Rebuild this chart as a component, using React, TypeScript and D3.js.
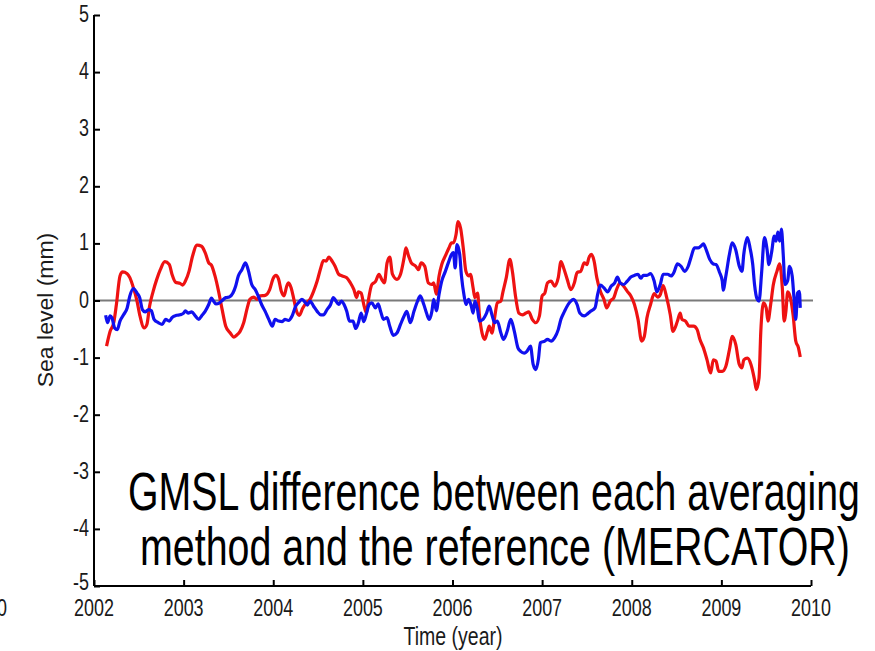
import React, { useRef, useEffect } from "react";
import * as d3 from "d3";

// red series: [year, mm]
const redSeries: [number, number][] = [
  [2002.14, -0.8], [2002.18, -0.54], [2002.22, -0.39], [2002.25, -0.07], [2002.29, 0.43],
  [2002.32, 0.5], [2002.37, 0.47], [2002.4, 0.4], [2002.44, 0.22], [2002.48, -0.01],
  [2002.51, -0.25], [2002.56, -0.48], [2002.59, -0.42], [2002.62, -0.1], [2002.66, 0.16],
  [2002.7, 0.37], [2002.74, 0.54], [2002.79, 0.68], [2002.84, 0.63], [2002.87, 0.46],
  [2002.91, 0.32], [2002.96, 0.3], [2002.99, 0.27], [2003.02, 0.34], [2003.06, 0.51],
  [2003.1, 0.78], [2003.15, 0.97], [2003.2, 0.95], [2003.24, 0.84], [2003.28, 0.66],
  [2003.31, 0.62], [2003.35, 0.43], [2003.39, 0.16], [2003.43, -0.16], [2003.47, -0.45],
  [2003.52, -0.57], [2003.56, -0.64], [2003.59, -0.61], [2003.63, -0.54], [2003.67, -0.39],
  [2003.71, -0.13], [2003.74, 0.02], [2003.78, 0.06], [2003.82, 0.02], [2003.85, 0.08],
  [2003.91, 0.09], [2003.96, 0.19], [2004.0, 0.39], [2004.03, 0.44], [2004.06, 0.37],
  [2004.09, 0.16], [2004.12, 0.08], [2004.15, 0.25], [2004.17, 0.31], [2004.2, 0.22],
  [2004.23, 0.02], [2004.26, -0.19], [2004.29, -0.26], [2004.33, -0.13], [2004.37, -0.04],
  [2004.41, 0.02], [2004.45, 0.16], [2004.49, 0.34], [2004.53, 0.57], [2004.56, 0.7],
  [2004.59, 0.69], [2004.62, 0.76], [2004.66, 0.68], [2004.69, 0.6], [2004.73, 0.46],
  [2004.77, 0.43], [2004.82, 0.4], [2004.86, 0.31], [2004.9, 0.19], [2004.93, 0.05],
  [2004.95, 0.15], [2004.98, 0.13], [2005.01, -0.07], [2005.04, -0.22], [2005.06, -0.01],
  [2005.1, 0.28], [2005.14, 0.33], [2005.18, 0.46], [2005.21, 0.37], [2005.24, 0.31],
  [2005.27, 0.66], [2005.3, 0.76], [2005.33, 0.46], [2005.38, 0.37], [2005.42, 0.46],
  [2005.46, 0.75], [2005.48, 0.92], [2005.51, 0.78], [2005.54, 0.66], [2005.59, 0.6],
  [2005.62, 0.54], [2005.65, 0.66], [2005.69, 0.6], [2005.73, 0.31], [2005.77, 0.28],
  [2005.79, 0.31], [2005.82, 0.11], [2005.85, 0.43], [2005.88, 0.63], [2005.92, 0.78],
  [2005.96, 0.92], [2005.99, 1.01], [2006.01, 1.01], [2006.04, 1.16], [2006.06, 1.38],
  [2006.09, 1.27], [2006.12, 0.92], [2006.15, 0.51], [2006.18, 0.43], [2006.2, 0.46],
  [2006.23, 0.22], [2006.25, 0.05], [2006.28, 0.13], [2006.3, -0.25], [2006.33, -0.57],
  [2006.36, -0.68], [2006.39, -0.54], [2006.41, -0.45], [2006.44, -0.57], [2006.47, -0.3],
  [2006.5, -0.04], [2006.54, -0.01], [2006.56, 0.13], [2006.6, 0.4], [2006.64, 0.72],
  [2006.67, 0.49], [2006.7, 0.11], [2006.74, -0.22], [2006.78, -0.25], [2006.82, -0.22],
  [2006.85, -0.2], [2006.89, -0.33], [2006.93, -0.39], [2006.97, -0.27], [2007.0, 0.08],
  [2007.03, 0.13], [2007.06, 0.31], [2007.1, 0.34], [2007.14, 0.25], [2007.18, 0.4],
  [2007.21, 0.68], [2007.24, 0.57], [2007.28, 0.37], [2007.32, 0.19], [2007.36, 0.31],
  [2007.39, 0.49], [2007.43, 0.51], [2007.47, 0.66], [2007.5, 0.63], [2007.52, 0.74],
  [2007.55, 0.81], [2007.58, 0.69], [2007.61, 0.4], [2007.65, 0.16], [2007.69, 0.02],
  [2007.72, -0.13], [2007.76, -0.01], [2007.8, 0.05], [2007.83, 0.19], [2007.87, 0.31],
  [2007.91, 0.25], [2007.95, 0.16], [2007.99, 0.08], [2008.03, -0.07], [2008.07, -0.33],
  [2008.11, -0.71], [2008.14, -0.63], [2008.17, -0.3], [2008.21, -0.07], [2008.25, 0.12],
  [2008.29, 0.06], [2008.32, 0.11], [2008.35, 0.26], [2008.39, 0.05], [2008.43, -0.25],
  [2008.46, -0.54], [2008.51, -0.36], [2008.54, -0.22], [2008.56, -0.33], [2008.6, -0.36],
  [2008.64, -0.45], [2008.69, -0.45], [2008.73, -0.51], [2008.76, -0.68], [2008.8, -0.83],
  [2008.84, -1.04], [2008.88, -1.27], [2008.91, -1.04], [2008.94, -1.06], [2008.97, -1.24],
  [2009.01, -1.24], [2009.05, -1.15], [2009.09, -0.86], [2009.12, -0.63], [2009.16, -0.77],
  [2009.2, -1.12], [2009.23, -1.18], [2009.25, -1.04], [2009.29, -1.01], [2009.33, -1.12],
  [2009.37, -1.39], [2009.39, -1.56], [2009.42, -1.36], [2009.44, -0.54], [2009.47, -0.04],
  [2009.5, -0.13], [2009.52, -0.36], [2009.55, -0.07], [2009.58, 0.28], [2009.62, 0.51],
  [2009.65, 0.64], [2009.68, 0.22], [2009.7, -0.36], [2009.72, -0.19], [2009.74, 0.15],
  [2009.77, 0.05], [2009.8, -0.25], [2009.83, -0.71], [2009.86, -0.83], [2009.88, -0.99],
];

// blue series: [year, mm]
const blueSeries: [number, number][] = [
  [2002.13, -0.26], [2002.15, -0.39], [2002.18, -0.27], [2002.2, -0.3], [2002.23, -0.48],
  [2002.26, -0.51], [2002.29, -0.36], [2002.33, -0.25], [2002.37, -0.13], [2002.4, 0.08],
  [2002.44, 0.21], [2002.48, 0.13], [2002.51, 0.05], [2002.54, -0.16], [2002.57, -0.2],
  [2002.61, -0.16], [2002.64, -0.18], [2002.67, -0.33], [2002.72, -0.39], [2002.76, -0.42],
  [2002.8, -0.33], [2002.84, -0.36], [2002.87, -0.3], [2002.92, -0.26], [2002.96, -0.25],
  [2003.0, -0.22], [2003.02, -0.18], [2003.05, -0.22], [2003.09, -0.2], [2003.13, -0.27],
  [2003.17, -0.33], [2003.2, -0.27], [2003.24, -0.19], [2003.28, -0.07], [2003.31, 0.04],
  [2003.33, 0.0], [2003.36, -0.06], [2003.4, -0.04], [2003.43, 0.0], [2003.47, 0.05],
  [2003.51, 0.06], [2003.55, 0.13], [2003.58, 0.25], [2003.61, 0.43], [2003.65, 0.54],
  [2003.69, 0.66], [2003.72, 0.54], [2003.76, 0.28], [2003.8, 0.19], [2003.84, 0.05],
  [2003.87, -0.07], [2003.91, -0.19], [2003.95, -0.33], [2003.99, -0.45], [2004.02, -0.33],
  [2004.06, -0.36], [2004.1, -0.37], [2004.13, -0.33], [2004.17, -0.35], [2004.21, -0.27],
  [2004.25, -0.1], [2004.28, -0.04], [2004.32, 0.02], [2004.36, -0.04], [2004.38, -0.08],
  [2004.41, -0.01], [2004.45, -0.1], [2004.49, -0.19], [2004.53, -0.25], [2004.56, -0.25],
  [2004.6, -0.16], [2004.64, -0.07], [2004.67, 0.05], [2004.7, -0.01], [2004.73, -0.07],
  [2004.76, -0.01], [2004.79, -0.07], [2004.82, -0.19], [2004.85, -0.36], [2004.89, -0.36],
  [2004.92, -0.49], [2004.95, -0.39], [2004.98, -0.22], [2005.01, -0.37], [2005.04, -0.23],
  [2005.07, -0.07], [2005.1, -0.04], [2005.14, -0.13], [2005.17, -0.06], [2005.2, -0.2],
  [2005.23, -0.33], [2005.27, -0.3], [2005.3, -0.45], [2005.34, -0.61], [2005.38, -0.57],
  [2005.42, -0.42], [2005.46, -0.27], [2005.49, -0.19], [2005.53, -0.39], [2005.57, -0.19],
  [2005.61, -0.01], [2005.64, 0.08], [2005.68, -0.07], [2005.71, -0.22], [2005.74, -0.33],
  [2005.77, -0.19], [2005.79, 0.02], [2005.82, -0.18], [2005.85, 0.11], [2005.88, 0.34],
  [2005.92, 0.51], [2005.96, 0.69], [2005.99, 0.81], [2006.01, 0.84], [2006.03, 0.57],
  [2006.05, 0.98], [2006.08, 0.81], [2006.1, 0.43], [2006.13, 0.08], [2006.15, -0.07],
  [2006.18, 0.02], [2006.21, -0.1], [2006.23, -0.22], [2006.25, -0.01], [2006.28, -0.16],
  [2006.3, -0.36], [2006.34, -0.33], [2006.38, -0.22], [2006.41, -0.1], [2006.44, -0.25],
  [2006.47, -0.39], [2006.5, -0.36], [2006.54, -0.57], [2006.57, -0.68], [2006.61, -0.54],
  [2006.65, -0.33], [2006.69, -0.54], [2006.73, -0.83], [2006.76, -0.89], [2006.8, -0.92],
  [2006.83, -0.89], [2006.87, -0.8], [2006.9, -1.12], [2006.93, -1.21], [2006.96, -1.01],
  [2006.98, -0.74], [2007.03, -0.71], [2007.06, -0.68], [2007.1, -0.71], [2007.14, -0.65],
  [2007.18, -0.51], [2007.21, -0.33], [2007.25, -0.19], [2007.29, -0.07], [2007.32, -0.01],
  [2007.35, 0.02], [2007.39, -0.07], [2007.42, -0.22], [2007.47, -0.27], [2007.51, -0.23],
  [2007.54, -0.19], [2007.59, -0.13], [2007.62, 0.11], [2007.65, 0.27], [2007.69, 0.22],
  [2007.73, 0.15], [2007.77, 0.25], [2007.81, 0.31], [2007.84, 0.41], [2007.87, 0.31],
  [2007.91, 0.28], [2007.95, 0.34], [2007.99, 0.41], [2008.03, 0.44], [2008.07, 0.46],
  [2008.1, 0.39], [2008.13, 0.44], [2008.17, 0.44], [2008.21, 0.47], [2008.25, 0.34],
  [2008.28, 0.15], [2008.32, 0.29], [2008.35, 0.46], [2008.4, 0.46], [2008.44, 0.43],
  [2008.47, 0.49], [2008.51, 0.64], [2008.55, 0.6], [2008.59, 0.51], [2008.63, 0.6],
  [2008.66, 0.75], [2008.7, 0.92], [2008.74, 0.92], [2008.77, 0.95], [2008.8, 0.99],
  [2008.83, 0.89], [2008.87, 0.72], [2008.91, 0.64], [2008.94, 0.63], [2008.98, 0.49],
  [2009.01, 0.34], [2009.02, 0.18], [2009.05, 0.43], [2009.09, 0.81], [2009.12, 1.01],
  [2009.16, 0.89], [2009.2, 0.6], [2009.23, 0.51], [2009.25, 0.81], [2009.29, 1.1],
  [2009.32, 0.92], [2009.35, 0.63], [2009.37, 0.28], [2009.4, 0.02], [2009.42, -0.01],
  [2009.45, 0.51], [2009.48, 1.1], [2009.51, 0.89], [2009.53, 0.63], [2009.56, 0.84],
  [2009.59, 1.13], [2009.61, 1.04], [2009.63, 1.2], [2009.65, 1.04], [2009.67, 1.25],
  [2009.69, 0.81], [2009.71, 0.28], [2009.74, 0.35], [2009.76, 0.6], [2009.79, 0.43],
  [2009.81, 0.05], [2009.83, -0.33], [2009.85, 0.13], [2009.87, 0.16], [2009.88, -0.13],
];

const yearTicks = [2002, 2003, 2004, 2005, 2006, 2007, 2008, 2009, 2010];
const mmTicks = [-5, -4, -3, -2, -1, 0, 1, 2, 3, 4, 5];
const noteLines = [
  "GMSL difference between each averaging",
  "method and the reference (MERCATOR)",
];

const FONT = "'Liberation Sans', Arial, Helvetica, sans-serif";
// the original figure is squeezed horizontally, so text is narrowed too
const SQ = 0.78;

const App = () => {
  const ref = useRef<SVGSVGElement | null>(null);

  useEffect(() => {
    const width = 875;
    const height = 651;
    const svg = d3.select(ref.current);
    svg.selectAll("*").remove();

    const x = d3.scaleLinear().domain([2002, 2010]).range([94, 811]);
    const y = d3.scaleLinear().domain([-5, 5]).range([586, 15]);

    svg.append("rect").attr("width", width).attr("height", height).attr("fill", "#fff");

    // zero reference line
    svg
      .append("line")
      .attr("x1", x(2002))
      .attr("x2", x(2010) + 2)
      .attr("y1", y(0))
      .attr("y2", y(0))
      .attr("stroke", "#7a7a7a")
      .attr("stroke-width", 2);

    const line = d3
      .line<[number, number]>()
      .x((d) => x(d[0]))
      .y((d) => y(d[1]))
      .curve(d3.curveMonotoneX);

    svg
      .append("path")
      .datum(redSeries)
      .attr("d", line)
      .attr("fill", "none")
      .attr("stroke", "#ee1212")
      .attr("stroke-width", 3.2)
      .attr("stroke-linejoin", "round");

    svg
      .append("path")
      .datum(blueSeries)
      .attr("d", line)
      .attr("fill", "none")
      .attr("stroke", "#1010ee")
      .attr("stroke-width", 3.2)
      .attr("stroke-linejoin", "round");

    // axes (ticks pointing inward)
    const xAxis = svg
      .append("g")
      .attr("transform", `translate(0,${y(-5)})`)
      .call(d3.axisTop(x).tickValues(yearTicks).tickSize(6).tickFormat(() => ""));
    xAxis.select(".domain").attr("d", `M${x(2002)},0H${x(2010)}`);

    const yAxis = svg
      .append("g")
      .attr("transform", `translate(${x(2002)},0)`)
      .call(d3.axisRight(y).tickValues(mmTicks).tickSize(6).tickFormat(() => ""));
    yAxis.select(".domain").attr("d", `M0,${y(5)}V${y(-5)}`);

    svg.selectAll(".domain").attr("stroke", "#000").attr("stroke-width", 2);
    svg.selectAll(".tick line").attr("stroke", "#000").attr("stroke-width", 2);

    // tick labels
    svg
      .append("g")
      .selectAll("text")
      .data(yearTicks)
      .join("text")
      .attr("transform", (d) => `translate(${x(d)},616) scale(${SQ},1)`)
      .attr("text-anchor", "middle")
      .attr("font-family", FONT)
      .attr("font-size", 23)
      .attr("fill", "#1a1a1a")
      .text((d) => d);

    svg
      .append("text")
      .attr("transform", `translate(7,616) scale(${SQ},1)`)
      .attr("text-anchor", "end")
      .attr("font-family", FONT)
      .attr("font-size", 23)
      .attr("fill", "#1a1a1a")
      .text("2000");

    svg
      .append("g")
      .selectAll("text")
      .data(mmTicks)
      .join("text")
      .attr("transform", (d) => `translate(${x(2002) - 5},${y(d) + (d === -5 ? 4 : 7)}) scale(${SQ},1)`)
      .attr("text-anchor", "end")
      .attr("font-family", FONT)
      .attr("font-size", 23)
      .attr("fill", "#1a1a1a")
      .text((d) => d);

    svg
      .append("text")
      .attr("transform", `translate(453,645) scale(${SQ},1)`)
      .attr("text-anchor", "middle")
      .attr("font-family", FONT)
      .attr("font-size", 25)
      .attr("fill", "#1a1a1a")
      .text("Time (year)");

    svg
      .append("text")
      .attr("transform", `translate(53,310) scale(0.92,1) rotate(-90)`)
      .attr("text-anchor", "middle")
      .attr("font-family", FONT)
      .attr("font-size", 23)
      .attr("fill", "#1a1a1a")
      .text("Sea level (mm)");

    // annotation, narrowed to the measured widths
    const noteX = [128, 140];
    const noteW = [732, 710];
    const noteY = [510, 565];
    svg
      .append("g")
      .selectAll("text")
      .data(noteLines)
      .join("text")
      .attr("font-family", FONT)
      .attr("font-size", 54)
      .attr("fill", "#000")
      .text((d) => d)
      .each(function (_, i) {
        const el = this as SVGTextElement;
        const len = el.getComputedTextLength() || noteW[i];
        d3.select(el).attr(
          "transform",
          `translate(${noteX[i]},${noteY[i]}) scale(${noteW[i] / len},1)`
        );
      });
  }, []);

  return (
    <svg
      ref={ref}
      width={875}
      height={651}
      style={{ position: "absolute", left: 0, top: 0 }}
    />
  );
};

export default App;
